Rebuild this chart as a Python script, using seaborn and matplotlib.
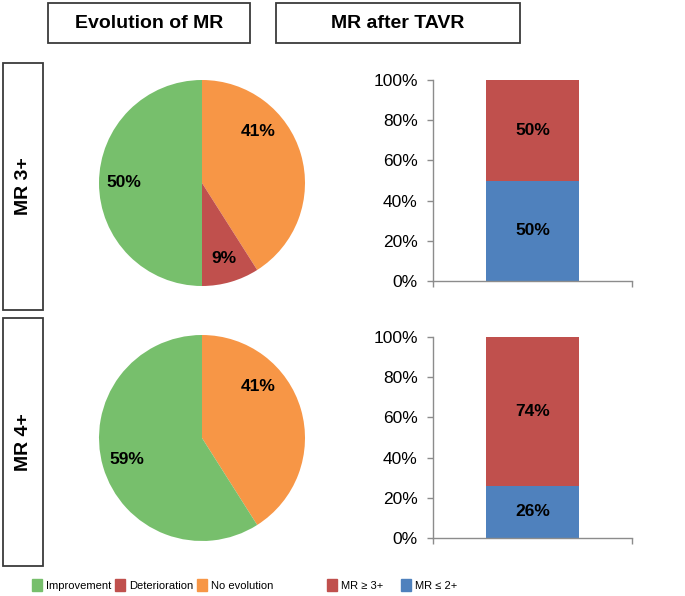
import matplotlib
matplotlib.use("Agg")
import numpy as np
import matplotlib.pyplot as plt
import matplotlib.patches as mpatches
import pandas as pd
import seaborn as sns

# pie slices, clockwise from 12 o'clock
pie_labels = ["No evolution", "Deterioration", "Improvement"]
mr3_evolution = [41, 9, 50]
mr4_evolution = [41, 0, 59]

# stacked bars: [MR <= 2+, MR >= 3+]
mr3_after = [50, 50]
mr4_after = [26, 74]

row_labels = ["MR 3+", "MR 4+"]
col_titles = ["Evolution of MR", "MR after TAVR"]
yticks = [0, 20, 40, 60, 80, 100]

GREEN = "#77BF6C"
RED = "#C0504D"
ORANGE = "#F79646"
BLUE = "#4F81BD"
GRID = "#8C8C8C"
pie_colors = [ORANGE, RED, GREEN]

sns.set_style("white")
plt.rcParams["font.family"] = ["Liberation Sans", "DejaVu Sans"]
plt.rcParams["text.color"] = "black"
plt.rcParams["xtick.color"] = "black"
plt.rcParams["ytick.color"] = "black"

W, H = 685, 596
fig = plt.figure(figsize=(W / 100, H / 100), dpi=100)


def rect(x0, y0, x1, y1):
    # pixel box (from top-left) -> figure fraction [left, bottom, width, height]
    return [x0 / W, 1 - y1 / H, (x1 - x0) / W, (y1 - y0) / H]


def frame_box(x0, y0, x1, y1):
    l, b, w, h = rect(x0, y0, x1, y1)
    fig.patches.append(mpatches.Rectangle((l, b), w, h, transform=fig.transFigure,
                                          fill=False, edgecolor="#3A3A3A", linewidth=1.3))
    return l + w / 2, b + h / 2


# column headers
for (x0, x1), title in zip([(48, 250), (276, 520)], col_titles):
    cx, cy = frame_box(x0, 3, x1, 43)
    fig.text(cx, cy, title, ha="center", va="center", fontsize=14, fontweight="bold")

# row headers
for (y0, y1), lab in zip([(63, 310), (318, 566)], row_labels):
    cx, cy = frame_box(3, y0, 43, y1)
    fig.text(cx, cy, lab, ha="center", va="center", rotation=90, fontsize=14,
             fontweight="bold")

# pies
for (y0, y1), vals in zip([(80, 286), (335, 541)], [mr3_evolution, mr4_evolution]):
    ax = fig.add_axes(rect(99, y0, 305, y1))
    wedges, texts, autotexts = ax.pie(
        vals, colors=pie_colors, startangle=90, counterclock=False,
        autopct=lambda p: f"{p:.0f}%" if p > 0 else "", pctdistance=0.76,
        wedgeprops=dict(linewidth=0),
        textprops=dict(fontsize=12.5, fontweight="bold", color="black"))
    # the "no evolution" label sits higher up in its slice
    a = np.deg2rad(47)
    autotexts[0].set_position((0.74 * np.sin(a), 0.74 * np.cos(a)))
    ax.set_xlim(-1, 1)
    ax.set_ylim(-1, 1)
    ax.set_aspect("equal")
    ax.axis("off")

# stacked bars
for (y0, y1), vals in zip([(80, 281), (337, 538)], [mr3_after, mr4_after]):
    ax = fig.add_axes(rect(433, y0, 632, y1))
    df = pd.DataFrame({"cat": ["MR"], "total": [sum(vals)], "low": [vals[0]]})
    sns.barplot(data=df, x="cat", y="total", color=RED, width=0.47,
                saturation=1, errorbar=None, linewidth=0, ax=ax)
    sns.barplot(data=df, x="cat", y="low", color=BLUE, width=0.47,
                saturation=1, errorbar=None, linewidth=0, ax=ax)
    ax.text(0, vals[0] / 2, f"{vals[0]}%", ha="center", va="center",
            fontsize=12.5, fontweight="bold")
    ax.text(0, vals[0] + vals[1] / 2, f"{vals[1]}%", ha="center", va="center",
            fontsize=12.5, fontweight="bold")
    ax.set_xlim(-0.5, 0.5)
    ax.set_ylim(0, 100)
    ax.set_yticks(yticks)
    ax.set_yticklabels([f"{t}%" for t in yticks])
    ax.set_xticks([-0.5, 0.5])
    ax.set_xticklabels(["", ""])
    ax.set_xlabel("")
    ax.set_ylabel("")
    for s in ["top", "right"]:
        ax.spines[s].set_visible(False)
    for s in ["left", "bottom"]:
        ax.spines[s].set_color(GRID)
        ax.spines[s].set_linewidth(1)
    ax.tick_params(axis="both", direction="out", length=4, width=1, color=GRID,
                   labelsize=12.5, pad=7, left=True, bottom=True)

# legends
left_handles = [mpatches.Patch(color=GREEN, label="Improvement"),
                mpatches.Patch(color=RED, label="Deterioration"),
                mpatches.Patch(color=ORANGE, label="No evolution")]
right_handles = [mpatches.Patch(color=RED, label="MR ≥ 3+"),
                 mpatches.Patch(color=BLUE, label="MR ≤ 2+")]
leg_kw = dict(loc="center", frameon=False, fontsize=8, handlelength=0.9,
              handleheight=1.2, handletextpad=0.35, columnspacing=0.35)
fig.legend(handles=left_handles, ncol=3, bbox_to_anchor=(153 / W, 1 - 585 / H), **leg_kw)
fig.legend(handles=right_handles, ncol=2, bbox_to_anchor=(392 / W, 1 - 585 / H),
           **{**leg_kw, "columnspacing": 1.6})

fig.savefig("out.png", dpi=100)
